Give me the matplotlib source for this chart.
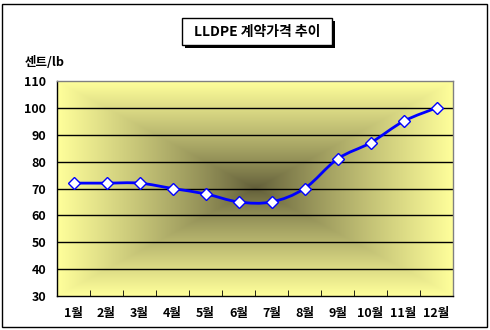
import numpy as np
import matplotlib
matplotlib.use("Agg")
import matplotlib.pyplot as plt
from matplotlib.path import Path
from matplotlib.patches import PathPatch, Rectangle

plt.rcParams["font.family"] = ["Noto Sans CJK KR", "DejaVu Sans"]
plt.rcParams["axes.unicode_minus"] = False

months = ["1월", "2월", "3월", "4월", "5월", "6월", "7월", "8월", "9월", "10월", "11월", "12월"]
prices = [72, 72, 72, 70, 68, 65, 65, 70, 81, 87, 95, 100]
y_ticks = [30, 40, 50, 60, 70, 80, 90, 100, 110]

W, H = 490, 330
fig = plt.figure(figsize=(W / 100, H / 100), dpi=100)
fig.patch.set_facecolor("white")

# outer frame
fig.patches.append(Rectangle((2 / W, 3 / H), 485 / W, 323 / H, transform=fig.transFigure,
                             fill=False, ec="black", lw=1.0))

ax = fig.add_axes([57 / W, 34 / H, 396 / W, 215 / H])

# rectangular "from center" gradient background
n = 300
u = np.linspace(-1, 1, n)
U, V = np.meshgrid(u, u)
t = np.maximum(np.abs(U), np.abs(V)) ** 0.85
c0 = np.array([96, 92, 56]) / 255
c1 = np.array([255, 255, 155]) / 255
img = c0 + (c1 - c0) * t[..., None]
ax.imshow(img, extent=[0, 1, 0, 1], transform=ax.transAxes, aspect="auto", zorder=0,
          interpolation="bilinear")

x = np.arange(len(months))
ax.set_xlim(-0.5, len(months) - 0.5)
ax.set_ylim(30, 110)

for yv in y_ticks[1:-1]:
    ax.axhline(yv, color="black", lw=1.0, zorder=1)

# smoothed line (Excel-style bezier through the points)
pts = np.column_stack([x, prices]).astype(float)
verts = [pts[0]]
codes = [Path.MOVETO]
for i in range(len(pts) - 1):
    p0 = pts[max(i - 1, 0)]
    p1 = pts[i]
    p2 = pts[i + 1]
    p3 = pts[min(i + 2, len(pts) - 1)]
    verts += [p1 + (p2 - p0) / 6, p2 - (p3 - p1) / 6, p2]
    codes += [Path.CURVE4] * 3
ax.add_patch(PathPatch(Path(verts, codes), fill=False, ec="#0000ff", lw=2.0, zorder=3))
ax.plot(x, prices, ls="none", marker="D", ms=6, mfc="white", mec="#0000ff", mew=1.0, zorder=4)

ax.set_yticks(y_ticks)
ax.set_yticklabels([str(v) for v in y_ticks], fontsize=9, fontweight="bold")
ax.tick_params(axis="y", length=0, pad=8)
ax.set_xticks(x)
ax.set_xticklabels(months, fontsize=9, fontweight="bold")
ax.tick_params(axis="x", which="major", length=0, pad=8)
ax.set_xticks(x[:-1] + 0.5, minor=True)
ax.tick_params(axis="x", which="minor", direction="in", length=4, color="black")

for s in ("left", "bottom"):
    ax.spines[s].set_color("black")
    ax.spines[s].set_linewidth(1.0)
for s in ("top", "right"):
    ax.spines[s].set_color("#808080")
    ax.spines[s].set_linewidth(1.0)

fig.text(45 / W, 1 - 62 / H, "센트/lb", fontsize=9, fontweight="bold", ha="center", va="center")

# title box with shadow
bx, by, bw, bh = 182, 18, 150, 27
fig.patches.append(Rectangle(((bx + 3) / W, 1 - (by + bh + 3) / H), bw / W, bh / H,
                             transform=fig.transFigure, fc="black", ec="black", lw=0))
fig.patches.append(Rectangle((bx / W, 1 - (by + bh) / H), bw / W, bh / H,
                             transform=fig.transFigure, fc="white", ec="black", lw=1.0))
fig.text((bx + bw / 2) / W, 1 - (by + bh / 2) / H, "LLDPE 계약가격 추이", fontsize=10,
         fontweight="bold", ha="center", va="center")

fig.savefig("out.png", dpi=100)
